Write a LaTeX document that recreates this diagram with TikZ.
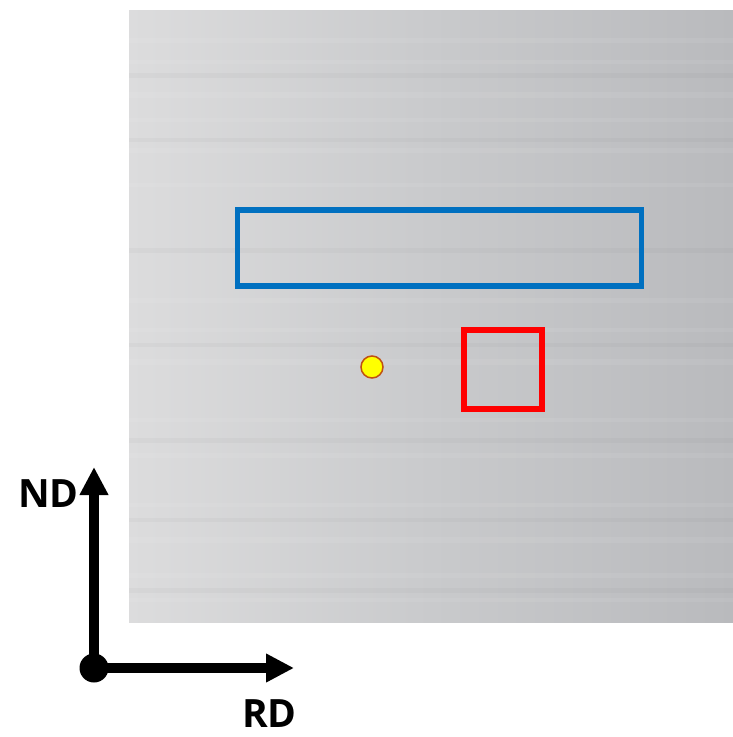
\documentclass[tikz,border=0pt]{standalone}
\usepackage{fontspec}
\setmainfont{Open Sans}
\usetikzlibrary{arrows.meta}
\definecolor{plateL}{HTML}{DCDCDD}
\definecolor{plateM}{HTML}{C9CACC}
\definecolor{plateR}{HTML}{B9BABD}
\definecolor{boxblue}{HTML}{0070C0}
\definecolor{boxred}{HTML}{FF0000}
\definecolor{dotyellow}{HTML}{FFFF00}
\definecolor{dotedge}{HTML}{C05010}
\tikzset{
  axis/.style={line width=10pt,-{Triangle[length=28pt,width=27pt]}},
  axislabel/.style={font=\bfseries\fontsize{39}{39}\selectfont,inner sep=0pt},
  streak/.style={line width=#1,white,opacity=0.07},
  darkstreak/.style={line width=#1,black,opacity=0.025},
}
\begin{document}
\begin{tikzpicture}[x=1pt,y=-1pt]
\useasboundingbox (0,0) rectangle (733,737);
% plate
\shade[left color=plateL,right color=plateR,middle color=plateM] (129,10) rectangle (733,622);
\foreach \yy/\w in {40/5,62/4,95/6,120/4,150/5,185/4,300/5,330/4,362/6,420/4,455/5,505/4,540/6,575/5,600/4}{
  \draw[streak=\w] (129,\yy) -- (733,\yy);
}
\foreach \yy/\w in {75/5,140/4,250/5,345/4,440/5,520/4,590/5}{
  \draw[darkstreak=\w] (129,\yy) -- (733,\yy);
}
% boxes
\node[draw=boxblue,line width=5.5pt,minimum width=404pt,minimum height=76pt,inner sep=0pt] (blue) at (439.5,248) {};
\node[draw=boxred,line width=6.5pt,minimum width=78pt,minimum height=79pt,inner sep=0pt] (red) at (503,369.5) {};
\node[circle,draw=dotedge,fill=dotyellow,line width=1.5pt,minimum size=22pt,inner sep=0pt] (pt) at (372,367) {};
% axes
\coordinate (o) at (94,668);
\coordinate (ndtip) at (94,467);
\coordinate (rdtip) at (294,668);
\draw[axis] (o) -- (ndtip);
\draw[axis] (o) -- (rdtip);
\node[circle,fill=black,minimum size=29pt,inner sep=0pt] (origin) at (o) {};
\node[axislabel,anchor=base east] (nd) at (79,507) {ND};
\node[axislabel,anchor=base east] (rd) at (297,727) {RD};
\end{tikzpicture}
\end{document}
